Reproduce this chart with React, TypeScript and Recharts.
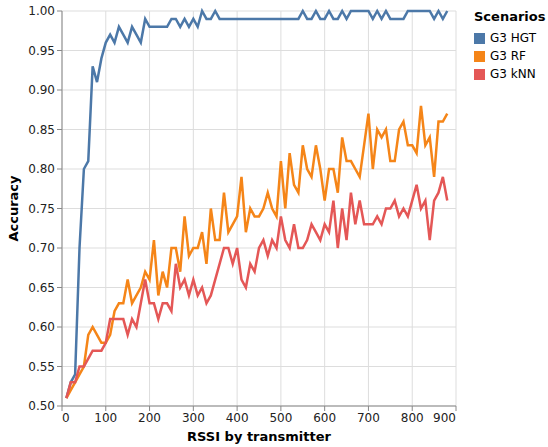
import React from 'react';
import { LineChart, Line, XAxis, YAxis, CartesianGrid } from 'recharts';

const rssi = [10,20,30,40,50,60,70,80,90,100,110,120,130,140,150,160,170,180,190,200,210,220,230,240,250,260,270,280,290,300,310,320,330,340,350,360,370,380,390,400,410,420,430,440,450,460,470,480,490,500,510,520,530,540,550,560,570,580,590,600,610,620,630,640,650,660,670,680,690,700,710,720,730,740,750,760,770,780,790,800,810,820,830,840,850,860,870,880];

const hgt = [
  0.51,0.53,0.54,0.70,0.80,0.81,0.93,0.91,0.94,0.96,
  0.97,0.96,0.98,0.97,0.96,0.98,0.97,0.96,0.99,0.98,
  0.98,0.98,0.98,0.98,0.99,0.99,0.98,0.99,0.98,0.99,
  0.98,1.00,0.99,0.99,1.00,0.99,0.99,0.99,0.99,0.99,
  0.99,0.99,0.99,0.99,0.99,0.99,0.99,0.99,0.99,0.99,
  0.99,0.99,0.99,0.99,1.00,0.99,0.99,1.00,0.99,0.99,
  1.00,0.99,0.99,1.00,0.99,1.00,1.00,1.00,1.00,1.00,
  0.99,1.00,0.99,1.00,0.99,0.99,0.99,0.99,1.00,1.00,
  1.00,1.00,1.00,1.00,0.99,1.00,0.99,1.00,
];

const rf = [
  0.51,0.52,0.53,0.54,0.55,0.59,0.60,0.59,0.58,0.58,
  0.59,0.62,0.63,0.63,0.66,0.63,0.64,0.65,0.67,0.66,
  0.71,0.64,0.67,0.65,0.70,0.70,0.67,0.74,0.69,0.70,
  0.70,0.72,0.68,0.75,0.71,0.71,0.77,0.72,0.73,0.74,
  0.79,0.72,0.75,0.74,0.74,0.75,0.77,0.75,0.74,0.81,
  0.75,0.82,0.78,0.77,0.83,0.80,0.79,0.83,0.80,0.76,
  0.80,0.80,0.77,0.84,0.81,0.81,0.80,0.79,0.83,0.87,
  0.80,0.85,0.84,0.85,0.81,0.81,0.85,0.86,0.83,0.83,
  0.82,0.88,0.83,0.84,0.79,0.86,0.86,0.87,
];

const knn = [
  0.51,0.53,0.53,0.55,0.55,0.56,0.57,0.57,0.57,0.58,
  0.61,0.61,0.61,0.61,0.59,0.61,0.60,0.63,0.66,0.63,
  0.63,0.61,0.63,0.63,0.62,0.68,0.65,0.66,0.64,0.66,
  0.64,0.65,0.63,0.64,0.66,0.68,0.70,0.70,0.68,0.70,
  0.66,0.65,0.68,0.67,0.70,0.71,0.69,0.71,0.70,0.74,
  0.71,0.70,0.73,0.70,0.70,0.71,0.73,0.72,0.71,0.73,
  0.72,0.76,0.70,0.75,0.71,0.77,0.73,0.76,0.73,0.73,
  0.73,0.74,0.73,0.75,0.75,0.76,0.74,0.75,0.74,0.76,
  0.78,0.75,0.76,0.71,0.76,0.77,0.79,0.76,
];

const xTicks = [0,100,200,300,400,500,600,700,800,900];
const yTicks = [0.5,0.55,0.6,0.65,0.7,0.75,0.8,0.85,0.9,0.95,1.0];

const seriesNames = ['G3 HGT', 'G3 RF', 'G3 kNN'];
const seriesKeys = ['hgt', 'rf', 'knn'];
const seriesColors = ['#4c78a8', '#f58518', '#e45756'];

const data = rssi.map((x, i) => ({ rssi: x, hgt: hgt[i], rf: rf[i], knn: knn[i] }));

const FONT = '"DejaVu Sans", sans-serif';

const XTick = (props: any) => {
  const { x, y, payload } = props;
  const v = payload.value;
  const anchor = v === xTicks[0] ? 'start' : v === xTicks[xTicks.length - 1] ? 'end' : 'middle';
  return (
    <text x={x} y={y} dy="0.75em" textAnchor={anchor} fontSize={12} fontFamily={FONT} fill="#222">
      {v}
    </text>
  );
};

const YTick = (props: any) => {
  const { x, y, payload } = props;
  return (
    <text x={x} y={y} dy="0.35em" textAnchor="end" fontSize={12} fontFamily={FONT} fill="#222">
      {Number(payload.value).toFixed(2)}
    </text>
  );
};

const XTitle = (props: any) => {
  const vb = props.viewBox;
  return (
    <text x={vb.x + vb.width / 2} y={vb.y + 35} textAnchor="middle" fontSize={13} fontWeight="bold" fontFamily={FONT} fill="#000">
      RSSI by transmitter
    </text>
  );
};

const YTitle = (props: any) => {
  const vb = props.viewBox;
  const cx = 18;
  const cy = vb.y + vb.height / 2;
  return (
    <text x={cx} y={cy} transform={`rotate(-90 ${cx} ${cy})`} textAnchor="middle" fontSize={13} fontWeight="bold" fontFamily={FONT} fill="#000">
      Accuracy
    </text>
  );
};

export default function App() {
  return (
    <div style={{ position: 'absolute', left: 0, top: 0, width: 548, height: 447, background: '#fff' }}>
      <LineChart width={548} height={447} data={data} margin={{ top: 11, right: 92, bottom: 0, left: 0 }}>
        <CartesianGrid stroke="#ddd" strokeWidth={1} />
        <XAxis
          dataKey="rssi"
          type="number"
          domain={[0, 900]}
          ticks={xTicks}
          interval={0}
          height={41}
          tickSize={5}
          tickMargin={2}
          stroke="#888"
          tick={<XTick />}
          label={<XTitle />}
        />
        <YAxis
          type="number"
          domain={[0.5, 1]}
          ticks={yTicks}
          interval={0}
          width={62}
          tickSize={5}
          tickMargin={2}
          stroke="#888"
          tick={<YTick />}
          label={<YTitle />}
        />
        {seriesKeys.map((k, i) => (
          <Line
            key={k}
            dataKey={k}
            name={seriesNames[i]}
            type="linear"
            stroke={seriesColors[i]}
            strokeWidth={2.5}
            dot={false}
            isAnimationActive={false}
          />
        ))}
      </LineChart>
      <div style={{ position: 'absolute', left: 474, top: 8, fontFamily: FONT, color: '#000' }}>
        <div style={{ fontSize: 13, fontWeight: 'bold', height: 21, lineHeight: '18px' }}>Scenarios</div>
        {seriesNames.map((n, i) => (
          <div key={n} style={{ display: 'flex', alignItems: 'center', height: 18, fontSize: 12 }}>
            <span style={{ display: 'inline-block', width: 11, height: 11, background: seriesColors[i], marginLeft: 0, marginRight: 5 }} />
            <span>{n}</span>
          </div>
        ))}
      </div>
    </div>
  );
}
